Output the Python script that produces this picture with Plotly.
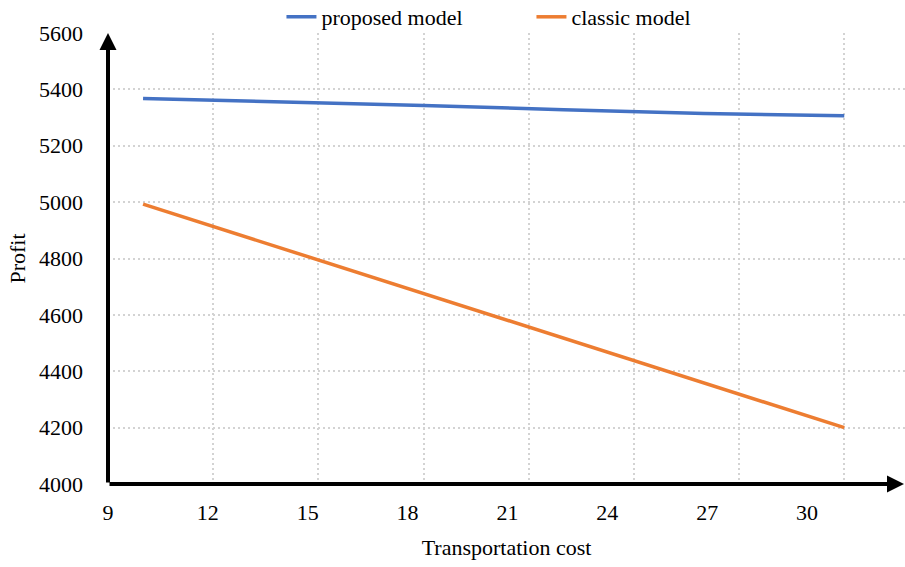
import plotly.graph_objects as go

# Transportation cost levels and the resulting profit for each model
cost = [10, 14, 18, 22, 26, 30]
proposed_profit = [5368, 5356, 5343, 5328, 5314, 5306]
classic_profit = [4993, 4834, 4676, 4517, 4359, 4200]

# Axis tick labels
x_tick_labels = [9, 12, 15, 18, 21, 24, 27, 30]
y_tick_vals = [4000, 4200, 4400, 4600, 4800, 5000, 5200, 5400, 5600]

FONT = "Liberation Serif"
FS = 22
GRID = "#D3D3D3"

fig = go.Figure()
fig.add_trace(go.Scatter(
    x=cost, y=proposed_profit, name="proposed model", mode="lines",
    line=dict(color="#4472C4", width=3.5),
))
fig.add_trace(go.Scatter(
    x=cost, y=classic_profit, name="classic model", mode="lines",
    line=dict(color="#ED7D31", width=3.5),
))
# Transparent helper trace so the labelled cost axis is rendered
fig.add_trace(go.Scatter(
    x=[x_tick_labels[0], x_tick_labels[-1]], y=[y_tick_vals[0]] * 2,
    xaxis="x2", mode="lines", line=dict(width=0, color="rgba(0,0,0,0)"),
    showlegend=False, hoverinfo="skip",
))

W, H = 905, 567
ML, MR, MT, MB = 108, 0, 33, 83
plot_w = W - ML - MR
plot_h = H - MT - MB

fig.update_layout(
    width=W, height=H,
    margin=dict(l=ML, r=MR, t=MT, b=MB, pad=0, autoexpand=False),
    paper_bgcolor="white", plot_bgcolor="white",
    font=dict(family=FONT, size=FS, color="black"),
    showlegend=True,
    legend=dict(
        orientation="h",
        xref="container", x=0.311, xanchor="left",
        yref="container", y=1 - 17 / H, yanchor="middle",
        font=dict(family=FONT, size=FS, color="black"),
        bgcolor="rgba(0,0,0,0)", entrywidth=205, entrywidthmode="pixels",
        tracegroupgap=0,
    ),
    xaxis=dict(
        range=[9, 9 + plot_w / 35.06], tick0=9, dtick=3,
        showgrid=True, gridcolor=GRID, gridwidth=1.5, griddash="2px,3px",
        showticklabels=False, showline=False, zeroline=False, ticks="",
    ),
    xaxis2=dict(
        overlaying="x", anchor="y", side="bottom",
        range=[9, 9 + plot_w / 33.29],
        tickmode="array", tickvals=x_tick_labels,
        ticktext=[str(v) for v in x_tick_labels],
        showgrid=False, zeroline=False, showline=False, ticks="",
        ticklabelstandoff=13,
        tickfont=dict(family=FONT, size=FS, color="black"),
        title=dict(text="Transportation cost", standoff=15,
                   font=dict(family=FONT, size=FS, color="black")),
    ),
    yaxis=dict(
        range=[4000, 5600], tickmode="array", tickvals=y_tick_vals,
        showgrid=True, gridcolor=GRID, gridwidth=1.5, griddash="2px,3px",
        zeroline=False, showline=False, ticks="",
        ticklabelstandoff=24,
        tickfont=dict(family=FONT, size=FS, color="black"),
        title=dict(text="Profit", standoff=7,
                   font=dict(family=FONT, size=FS, color="black")),
    ),
)

# Axis lines with arrowheads
fig.add_annotation(
    xref="paper", yref="paper", x=1.0, y=0.0, ax=-plot_w, ay=0,
    axref="pixel", ayref="pixel", text="", showarrow=True,
    arrowhead=2, arrowsize=0.85, arrowwidth=4, arrowcolor="black", standoff=0,
)
fig.add_annotation(
    xref="paper", yref="paper", x=0.0, y=1.0, ax=0, ay=plot_h,
    axref="pixel", ayref="pixel", text="", showarrow=True,
    arrowhead=2, arrowsize=0.85, arrowwidth=4, arrowcolor="black", standoff=0,
)

fig.write_html("out.html")
